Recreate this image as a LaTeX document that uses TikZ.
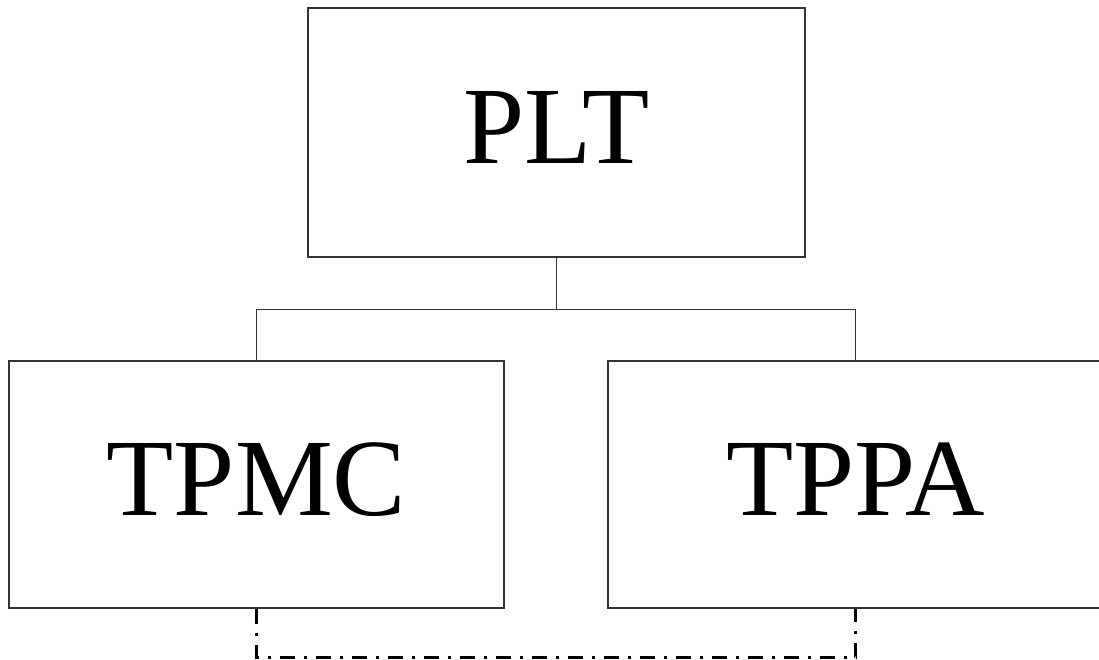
\documentclass[tikz,border=0pt]{standalone}
\usepackage{fontspec}
\setmainfont{Liberation Serif}
\begin{document}
\begin{tikzpicture}[x=1pt,y=-1pt,
  unitbox/.style={draw=black!80, line width=1.3pt, rectangle, inner sep=0pt,
    font=\fontsize{110}{110}\selectfont, text depth=10pt},
  orgline/.style={draw=black!80, line width=1.3pt},
  linkline/.style={draw=black, line width=2.5pt,
    dash pattern=on 15pt off 9pt on 3pt off 9pt}]
  \useasboundingbox (0,0) rectangle (1099,659);
  % units
  \node[unitbox, minimum width=497pt, minimum height=249pt] (plt) at (556.5,132.5) {PLT};
  \node[unitbox, minimum width=495pt, minimum height=247pt] (tpmc) at (256.5,484.5) {TPMC};
  \node[unitbox, minimum width=495pt, minimum height=247pt] (tppa) at (855.5,484.5) {TPPA};
  % reporting lines
  \path (plt.south) ++(0,52) coordinate (bus);
  \draw[orgline] (plt.south) -- (bus);
  \draw[orgline] (tpmc.north) |- (bus) -| (tppa.north);
  % coordination link
  \draw[linkline] (tpmc.south) -- ++(0,49) -| (tppa.south);
\end{tikzpicture}
\end{document}
